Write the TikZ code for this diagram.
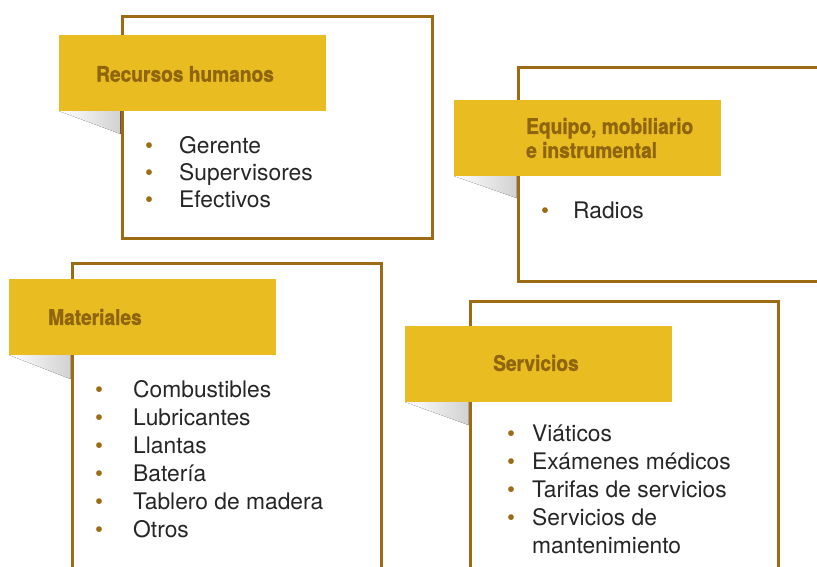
\documentclass[tikz,border=0pt]{standalone}
\usepackage{fontspec}
\setmainfont{TeX Gyre Heros}
\newfontfamily\titlefont[FakeStretch=0.89,FakeBold=1.2]{TeX Gyre Heros}
\definecolor{cafe}{HTML}{9C6B14}
\definecolor{cafeosc}{HTML}{8F650F}
\definecolor{oro}{HTML}{E9BC22}
\definecolor{tinta}{HTML}{262626}
\newcommand{\vineta}{\textcolor{cafe}{\textbullet}}

\begin{document}
\begin{tikzpicture}[x=1pt,y=-1pt,
	marco/.style={draw=cafe,line width=3pt,fill=white,inner sep=0pt,outer sep=0pt,anchor=north west},
	etiqueta/.style={fill=oro,inner sep=0pt,outer sep=0pt,anchor=north west,minimum width=267pt,minimum height=76pt},
	titulo/.style={anchor=west,align=left,inner sep=0pt,text=cafeosc,font=\titlefont\bfseries\fontsize{21.5}{24}\selectfont},
	lista/.style={anchor=base west,inner sep=0pt,text=tinta,font=\fontsize{22.8}{28}\selectfont},
	sombra/.style={left color=white,right color=black!18,draw=none}]
	
	\useasboundingbox (0,0) rectangle (817,566);
	\fill[white] (0,0) rectangle (817,566);
	\clip (0,0) rectangle (817,566);
	
	% Recursos humanos
	\node[marco,minimum width=310pt,minimum height=222pt] (marcoRH) at (122,16) {};
	\node[etiqueta] (etiqRH) at (59,35) {};
	\fill[sombra] (etiqRH.south west) -- ([xshift=-1.5pt]etiqRH.south -| marcoRH.west)
		-- ([xshift=-1.5pt,yshift=-23pt]etiqRH.south -| marcoRH.west) -- cycle;
	\node[titulo] (tituloRH) at (96,74) {Recursos humanos};
	\node[lista] (listaRH) at (145,153) {\begin{tabular}[t]{@{}p{34pt}@{}l@{}}
		\vineta & Gerente\\[-1pt]
		\vineta & Supervisores\\[-1pt]
		\vineta & Efectivos
	\end{tabular}};
	
	% Equipo, mobiliario e instrumental
	\node[marco,minimum width=340pt,minimum height=214pt] (marcoEQ) at (518,67) {};
	\node[etiqueta] (etiqEQ) at (454,100) {};
	\fill[sombra] (etiqEQ.south west) -- ([xshift=-1.5pt]etiqEQ.south -| marcoEQ.west)
		-- ([xshift=-1.5pt,yshift=-22pt]etiqEQ.south -| marcoEQ.west) -- cycle;
	\node[titulo] (tituloEQ) at (526,138) {Equipo, mobiliario\\ e instrumental};
	\node[lista] (listaEQ) at (541,218) {\begin{tabular}[t]{@{}p{32pt}@{}l@{}}
		\vineta & Radios
	\end{tabular}};
	
	% Materiales
	\node[marco,minimum width=309pt,minimum height=330pt] (marcoMA) at (72,263) {};
	\node[etiqueta] (etiqMA) at (9,279) {};
	\fill[sombra] (etiqMA.south west) -- ([xshift=-1.5pt]etiqMA.south -| marcoMA.west)
		-- ([xshift=-1.5pt,yshift=-24pt]etiqMA.south -| marcoMA.west) -- cycle;
	\node[titulo] (tituloMA) at (48,317) {Materiales};
	\node[lista] (listaMA) at (95,397) {\begin{tabular}[t]{@{}p{38pt}@{}l@{}}
		\vineta & Combustibles\\
		\vineta & Lubricantes\\
		\vineta & Llantas\\
		\vineta & Batería\\
		\vineta & Tablero de madera\\
		\vineta & Otros
	\end{tabular}};
	
	% Servicios
	\node[marco,minimum width=308pt,minimum height=300pt] (marcoSE) at (470,301) {};
	\node[etiqueta] (etiqSE) at (405,326) {};
	\fill[sombra] (etiqSE.south west) -- ([xshift=-1.5pt]etiqSE.south -| marcoSE.west)
		-- ([xshift=-1.5pt,yshift=-23pt]etiqSE.south -| marcoSE.west) -- cycle;
	\node[titulo] (tituloSE) at (493,363) {Servicios};
	\node[lista] (listaSE) at (507,441) {\begin{tabular}[t]{@{}p{25pt}@{}l@{}}
		\vineta & Viáticos\\
		\vineta & Exámenes médicos\\
		\vineta & Tarifas de servicios\\
		\vineta & Servicios de\\
		& mantenimiento
	\end{tabular}};
	
\end{tikzpicture}
\end{document}
